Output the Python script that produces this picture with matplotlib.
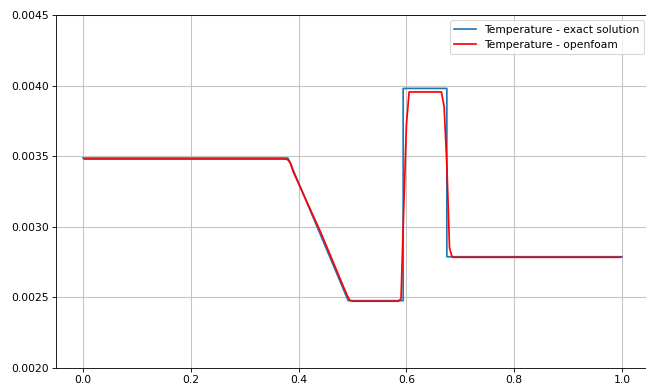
import matplotlib
matplotlib.use("Agg")
import matplotlib.pyplot as plt

# exact solution (piecewise)
x_exact = [0.0, 0.380, 0.3825, 0.492, 0.594, 0.594, 0.675, 0.675, 1.0]
t_exact = [0.003487, 0.003487, 0.00347, 0.002477, 0.002477, 0.003980, 0.003980, 0.002788, 0.002788]

# openfoam result
x_foam = [0.0025, 0.375, 0.380, 0.385, 0.390, 0.440, 0.485, 0.490, 0.495, 0.500,
          0.585, 0.590, 0.595, 0.600, 0.605, 0.665, 0.670, 0.675, 0.680, 0.685, 0.9975]
t_foam = [0.00348, 0.00348, 0.003475, 0.00345, 0.00339, 0.00297, 0.00256, 0.002515, 0.00248, 0.002473,
          0.002473, 0.00249, 0.00312, 0.00372, 0.003955, 0.003955, 0.00385, 0.00344, 0.00285, 0.002784, 0.002784]

dpi = 77
fig = plt.figure(figsize=(646 / dpi, 387 / dpi), dpi=dpi)
ax = fig.add_axes([56 / 646, 19 / 387, 593 / 646, 353 / 387])

ax.plot(x_exact, t_exact, color="#1f77b4", linewidth=1.6, label="Temperature - exact solution")
ax.plot(x_foam, t_foam, color="red", linewidth=1.6, label="Temperature - openfoam")

ax.set_xlim(-0.05, 1.05)
ax.set_ylim(0.0020, 0.0045)
ax.set_xticks([0.0, 0.2, 0.4, 0.6, 0.8, 1.0])
ax.set_yticks([0.0020, 0.0025, 0.0030, 0.0035, 0.0040, 0.0045])
ax.yaxis.set_major_formatter(matplotlib.ticker.FormatStrFormatter("%.4f"))
ax.grid(True, color="#c4c4c4", linewidth=1.0)
ax.legend(loc="upper right")

fig.savefig("out.png", dpi=dpi)
